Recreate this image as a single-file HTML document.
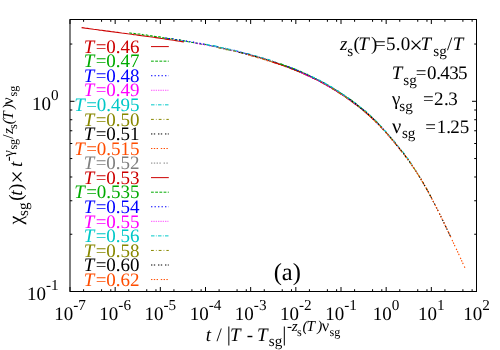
<!DOCTYPE html>
<html><head><meta charset="utf-8"><title>plot</title>
<style>html,body{margin:0;padding:0;background:#fff;}svg{display:block;will-change:transform;}text{font-family:"Liberation Serif",serif;font-size:19px;fill:#000;text-rendering:geometricPrecision;}.i{font-style:italic;}</style></head><body>
<svg width="500" height="350" viewBox="0 0 500 350">
<rect x="0" y="0" width="500" height="350" fill="#fff"/>
<g fill="none" stroke-width="1.15" stroke-linecap="butt" stroke-linejoin="round">
<path d="M81.6 27.6L83.6 27.9L85.6 28.2L87.6 28.4L89.6 28.7L91.6 29.0L93.6 29.3L95.6 29.5L97.6 29.8L99.6 30.1L101.7 30.3L103.7 30.6L105.7 30.9L107.7 31.1L109.7 31.4L111.7 31.7L113.7 31.9L115.7 32.2L117.7 32.4L119.7 32.7L121.7 33.0L123.7 33.2L125.7 33.5L127.7 33.8L129.7 34.0L131.7 34.3L133.7 34.6L135.7 34.8L137.8 35.1L139.8 35.4L141.8 35.7L143.8 35.9L145.8 36.2L147.8 36.5L149.8 36.8L151.8 37.0L153.8 37.3L155.8 37.6L157.8 37.9L159.8 38.2L161.8 38.5L163.8 38.8L165.8 39.1L167.8 39.4L169.8 39.7L171.8 40.0L173.9 40.3L175.9 40.6L177.9 41.0L179.9 41.3L181.9 41.6L183.9 41.9" stroke="#cc0000"/>
<path d="M129.3 32.7L131.3 33.2L133.4 33.3L135.4 33.8L137.4 34.0L139.5 34.0L141.5 34.2L143.5 35.0L145.6 34.9L147.6 35.2L149.6 35.9L151.7 35.9L153.7 36.4L155.8 36.5L157.8 36.9L159.8 36.9L161.9 37.5L163.9 37.9L165.9 38.0L168.0 38.5L170.0 38.7L172.0 38.7L174.1 39.4L176.1 39.6L178.1 39.8L180.2 39.9L182.2 40.8L184.2 40.9L186.3 41.4L188.3 41.8L190.3 42.1L192.4 42.5L194.4 42.6L196.4 43.2L198.5 43.4L200.5 44.0L202.5 44.4L204.6 44.3L206.6 44.7L208.6 45.2L210.7 46.0L212.7 46.1L214.7 46.6L216.8 46.9L218.8 47.4L220.8 47.8L222.9 48.2L224.9 48.8L226.9 49.2L229.0 49.9L231.0 50.2" stroke="#00aa00" stroke-dasharray="2.80,1.40"/>
<path d="M165.2 37.9L167.2 38.2L169.2 38.6L171.2 38.7L173.3 38.7L175.3 39.5L177.3 39.9L179.4 40.1L181.4 40.3L183.4 40.7L185.5 40.7L187.5 41.5L189.5 41.6L191.6 41.8L193.6 42.1L195.6 42.9L197.7 43.3L199.7 43.2L201.7 44.0L203.7 44.1L205.8 44.4L207.8 44.8L209.8 45.5L211.9 46.0L213.9 45.9L215.9 46.7L218.0 46.8L220.0 47.6L222.0 47.8L224.1 48.6L226.1 49.1L228.1 49.3L230.2 50.0L232.2 50.1L234.2 50.4L236.3 51.2L238.3 51.4L240.3 52.0L242.3 52.6L244.4 53.3L246.4 53.5L248.4 54.0L250.5 55.0L252.5 55.3L254.5 56.2L256.6 56.7L258.6 57.0L260.6 57.6L262.7 58.3L264.7 59.0L266.7 59.5" stroke="#0000ff" stroke-dasharray="1.40,2.10"/>
<path d="M194.0 42.8L196.1 43.2L198.1 43.8L200.1 43.9L202.1 44.2L204.2 44.8L206.2 44.9L208.2 45.3L210.3 46.1L212.3 46.3L214.3 46.7L216.3 46.8L218.4 47.5L220.4 48.0L222.4 48.1L224.5 48.9L226.5 49.4L228.5 49.5L230.5 50.3L232.6 50.7L234.6 51.3L236.6 51.6L238.7 52.3L240.7 52.8L242.7 52.9L244.7 53.4L246.8 54.3L248.8 55.0L250.8 55.2L252.9 55.8L254.9 56.5L256.9 56.9L258.9 57.5L261.0 58.0L263.0 58.7L265.0 59.4L267.1 59.9L269.1 60.5L271.1 61.4L273.1 61.6L275.2 62.6L277.2 63.4L279.2 63.8L281.3 64.5L283.3 65.5L285.3 65.9L287.3 66.6L289.4 67.6L291.4 68.5L293.4 68.9L295.5 69.9" stroke="#ff00ff" stroke-dasharray="0.70,1.05"/>
<path d="M206.6 44.4L208.6 45.1L210.6 45.2L212.7 45.9L214.7 45.9L216.7 46.4L218.7 47.0L220.8 47.6L222.8 47.8L224.8 48.1L226.8 48.5L228.9 49.2L230.9 49.5L232.9 50.3L234.9 50.8L237.0 50.9L239.0 51.5L241.0 52.3L243.1 52.7L245.1 53.3L247.1 53.6L249.1 54.0L251.2 54.6L253.2 55.5L255.2 55.7L257.2 56.3L259.3 57.0L261.3 57.6L263.3 58.1L265.3 59.1L267.4 59.2L269.4 59.8L271.4 61.0L273.4 61.6L275.5 62.3L277.5 62.7L279.5 63.7L281.5 64.3L283.6 64.6L285.6 65.7L287.6 66.5L289.6 67.2L291.7 67.8L293.7 68.5L295.7 69.3L297.7 70.1L299.8 70.9L301.8 72.0L303.8 72.7L305.8 74.0L307.9 74.4" stroke="#00c8c8" stroke-dasharray="3.50,1.40,0.70,1.40"/>
<path d="M218.2 47.8L220.2 48.1L222.2 48.7L224.2 49.1L226.2 49.6L228.3 49.8L230.3 50.0L232.3 50.9L234.3 51.0L236.4 51.6L238.4 52.3L240.4 52.7L242.4 53.2L244.5 54.0L246.5 54.3L248.5 54.7L250.5 55.2L252.5 56.1L254.6 56.4L256.6 57.2L258.6 57.5L260.6 58.0L262.7 58.8L264.7 59.6L266.7 59.8L268.7 60.8L270.8 61.5L272.8 62.1L274.8 62.7L276.8 62.9L278.8 64.0L280.9 64.8L282.9 65.0L284.9 65.9L286.9 66.6L289.0 67.6L291.0 68.3L293.0 69.1L295.0 70.1L297.0 70.4L299.1 71.3L301.1 72.2L303.1 73.1L305.1 74.0L307.2 75.4L309.2 76.3L311.2 76.8L313.2 78.0L315.3 78.9L317.3 79.9L319.3 81.0" stroke="#888800" stroke-dasharray="2.80,2.10,0.70,2.10"/>
<path d="M238.8 52.2L240.9 52.7L242.9 53.0L244.9 53.5L246.9 54.1L248.9 54.5L251.0 55.3L253.0 55.9L255.0 56.3L257.0 56.7L259.0 57.3L261.1 58.0L263.1 58.7L265.1 59.5L267.1 59.8L269.1 60.7L271.2 61.2L273.2 61.8L275.2 62.4L277.2 63.2L279.2 64.0L281.3 64.5L283.3 65.4L285.3 66.0L287.3 66.6L289.3 67.5L291.4 68.4L293.4 68.8L295.4 69.8L297.4 70.6L299.4 71.8L301.5 72.7L303.5 73.2L305.5 74.4L307.5 75.3L309.5 75.9L311.6 77.0L313.6 77.7L315.6 79.2L317.6 80.1L319.6 81.3L321.7 82.3L323.7 83.3L325.7 84.5L327.7 85.5L329.7 86.4L331.8 87.9L333.8 88.7L335.8 90.1L337.8 91.7L339.8 92.6" stroke="#000000" stroke-dasharray="1.40,1.40,1.40,2.80"/>
<path d="M248.1 54.7L250.2 55.2L252.2 56.3L254.2 56.4L256.2 56.9L258.2 57.9L260.3 58.1L262.3 59.1L264.3 59.6L266.3 60.3L268.3 61.0L270.3 61.4L272.4 62.2L274.4 62.4L276.4 63.5L278.4 64.0L280.4 64.8L282.4 65.2L284.5 66.3L286.5 67.1L288.5 67.4L290.5 68.3L292.5 69.2L294.5 70.2L296.6 70.6L298.6 71.4L300.6 72.3L302.6 73.4L304.6 74.4L306.7 75.1L308.7 76.0L310.7 77.0L312.7 77.9L314.7 78.9L316.7 79.7L318.8 81.0L320.8 82.4L322.8 83.1L324.8 84.4L326.8 85.2L328.8 86.7L330.9 87.9L332.9 89.0L334.9 90.2L336.9 91.4L338.9 92.8L340.9 94.3L343.0 95.1L345.0 96.5L347.0 98.3L349.0 99.8" stroke="#ff4d00" stroke-dasharray="1.40,1.40,1.40,1.40,1.40,2.80"/>
<path d="M256.9 56.7L258.9 57.2L260.9 58.0L262.9 58.2L264.9 58.9L267.0 59.5L269.0 60.3L271.0 60.8L273.0 61.4L275.0 62.3L277.0 63.2L279.0 63.4L281.1 64.4L283.1 64.9L285.1 65.9L287.1 66.5L289.1 67.1L291.1 67.8L293.1 68.5L295.2 69.6L297.2 70.3L299.2 71.0L301.2 72.0L303.2 72.8L305.2 74.0L307.2 74.6L309.3 76.0L311.3 76.6L313.3 77.7L315.3 78.6L317.3 79.8L319.3 80.9L321.3 81.8L323.4 82.8L325.4 84.1L327.4 85.3L329.4 86.2L331.4 87.6L333.4 88.9L335.4 89.8L337.5 91.0L339.5 92.3L341.5 93.9L343.5 95.2L345.5 96.7L347.5 98.1L349.5 99.1L351.6 100.6L353.6 102.1L355.6 103.6L357.6 105.4" stroke="#808080" stroke-dasharray="1.40,1.40,1.40,1.40,1.40,1.40,1.40,2.80"/>
<path d="M272.8 62.2L274.9 62.9L276.9 63.2L278.9 64.2L280.9 64.6L282.9 65.4L284.9 66.3L286.9 66.6L288.9 67.4L290.9 68.6L293.0 69.1L295.0 69.9L297.0 70.9L299.0 71.7L301.0 72.2L303.0 73.3L305.0 74.2L307.0 75.2L309.1 75.9L311.1 77.1L313.1 78.3L315.1 79.0L317.1 80.1L319.1 80.8L321.1 82.0L323.1 83.3L325.1 84.1L327.2 85.7L329.2 86.8L331.2 87.5L333.2 89.2L335.2 90.1L337.2 91.6L339.2 92.9L341.2 93.9L343.3 95.5L345.3 96.9L347.3 98.4L349.3 99.5L351.3 101.2L353.3 102.8L355.3 104.2L357.3 105.6L359.3 107.0L361.4 108.8L363.4 110.4L365.4 112.3L367.4 114.1L369.4 115.8L371.4 117.4L373.4 119.6" stroke="#cc0000"/>
<path d="M280.2 63.9L282.2 64.4L284.2 65.5L286.2 66.1L288.2 66.5L290.2 67.8L292.2 68.1L294.2 69.0L296.2 70.0L298.2 70.8L300.3 71.6L302.3 72.5L304.3 73.3L306.3 74.1L308.3 75.0L310.3 75.8L312.3 77.2L314.3 78.2L316.3 79.1L318.3 80.2L320.3 81.0L322.4 82.0L324.4 83.2L326.4 84.6L328.4 85.3L330.4 86.7L332.4 87.8L334.4 89.3L336.4 90.3L338.4 91.5L340.4 92.9L342.4 94.3L344.5 95.8L346.5 96.9L348.5 98.6L350.5 99.6L352.5 101.2L354.5 102.6L356.5 104.1L358.5 106.1L360.5 107.7L362.5 109.0L364.5 110.7L366.5 112.6L368.6 114.6L370.6 116.4L372.6 118.3L374.6 120.1L376.6 121.8L378.6 124.0L380.6 126.0" stroke="#00aa00" stroke-dasharray="2.80,1.40"/>
<path d="M287.1 66.6L289.1 67.3L291.1 67.9L293.1 68.7L295.1 69.8L297.1 70.2L299.2 71.5L301.2 72.4L303.2 73.3L305.2 73.9L307.2 74.9L309.2 75.8L311.2 76.8L313.2 78.0L315.2 78.8L317.2 79.6L319.2 80.9L321.2 81.8L323.2 82.9L325.2 84.1L327.2 84.8L329.2 86.4L331.2 87.5L333.3 88.6L335.3 89.9L337.3 91.1L339.3 92.2L341.3 93.7L343.3 94.7L345.3 96.4L347.3 97.9L349.3 99.2L351.3 100.7L353.3 102.4L355.3 103.9L357.3 105.0L359.3 107.0L361.3 108.5L363.3 109.8L365.3 111.7L367.4 113.4L369.4 115.1L371.4 117.2L373.4 119.3L375.4 120.9L377.4 123.3L379.4 125.2L381.4 127.0L383.4 129.6L385.4 131.7L387.4 134.2" stroke="#0000ff" stroke-dasharray="1.40,2.10"/>
<path d="M300.0 72.2L302.0 73.1L304.0 73.7L306.0 74.9L308.0 75.9L310.0 76.8L312.0 77.5L314.0 78.6L316.0 79.5L318.0 80.3L320.0 81.3L322.0 82.4L324.0 83.5L326.0 84.6L328.0 85.9L330.0 87.2L332.0 88.3L334.0 89.4L336.0 90.8L338.0 91.9L340.0 93.3L342.0 94.8L344.1 95.9L346.1 97.1L348.1 99.0L350.1 100.3L352.1 101.5L354.1 103.0L356.1 104.6L358.1 106.2L360.1 107.6L362.1 109.1L364.1 110.9L366.1 113.0L368.1 114.4L370.1 116.4L372.1 118.1L374.1 120.0L376.1 122.0L378.1 124.1L380.1 126.1L382.1 128.1L384.1 130.4L386.1 132.6L388.1 135.1L390.1 137.2L392.1 139.5L394.1 142.1L396.1 144.5L398.1 147.2L400.1 149.3" stroke="#ff00ff" stroke-dasharray="0.70,1.05"/>
<path d="M311.7 76.4L313.7 77.4L315.7 78.2L317.7 79.8L319.7 80.3L321.7 81.3L323.7 82.6L325.7 83.6L327.7 85.0L329.7 85.9L331.7 87.0L333.7 88.2L335.7 89.8L337.7 90.8L339.7 92.4L341.7 93.5L343.7 95.1L345.7 96.1L347.7 97.4L349.7 98.9L351.7 100.7L353.7 102.0L355.7 103.4L357.7 104.8L359.7 106.7L361.7 108.5L363.7 110.0L365.7 111.3L367.7 113.1L369.7 114.9L371.7 116.8L373.7 118.7L375.7 120.6L377.7 123.0L379.7 125.2L381.7 126.9L383.7 129.6L385.7 131.5L387.7 134.0L389.7 136.3L391.7 138.7L393.7 140.5L395.7 143.1L397.7 145.7L399.7 148.4L401.7 150.4L403.7 153.1L405.7 156.1L407.7 158.4L409.7 161.4L411.7 164.2" stroke="#00c8c8" stroke-dasharray="3.50,1.40,0.70,1.40"/>
<path d="M332.1 88.3L334.2 89.7L336.2 90.5L338.3 92.1L340.3 93.4L342.3 94.8L344.4 96.0L346.4 97.7L348.4 98.8L350.5 100.3L352.5 101.6L354.6 103.5L356.6 104.9L358.6 106.3L360.7 107.9L362.7 109.9L364.8 111.6L366.8 113.4L368.8 115.0L370.9 117.0L372.9 118.7L374.9 121.0L377.0 122.6L379.0 125.0L381.1 127.3L383.1 129.4L385.1 131.3L387.2 133.7L389.2 136.4L391.3 138.7L393.3 141.3L395.3 143.7L397.4 145.9L399.4 148.7L401.4 151.2L403.5 153.6L405.5 156.3L407.6 158.9L409.6 161.9L411.6 165.1L413.7 167.6L415.7 170.9L417.8 173.9L419.8 177.2L421.8 180.8L423.9 184.1L425.9 187.6L427.9 191.3L430.0 195.2L432.0 199.0" stroke="#888800" stroke-dasharray="2.80,2.10,0.70,2.10"/>
<path d="M349.5 99.2L351.6 100.8L353.6 102.7L355.6 103.8L357.7 105.6L359.7 107.1L361.7 109.0L363.8 110.6L365.8 112.4L367.8 114.1L369.8 115.7L371.9 117.6L373.9 119.4L375.9 121.9L378.0 123.5L380.0 125.5L382.0 128.3L384.0 130.0L386.1 132.7L388.1 134.6L390.1 137.1L392.2 139.4L394.2 142.1L396.2 144.5L398.2 147.0L400.3 149.6L402.3 152.2L404.3 154.5L406.4 157.4L408.4 160.1L410.4 162.8L412.4 166.0L414.5 168.9L416.5 172.1L418.5 175.1L420.6 178.5L422.6 181.9L424.6 185.5L426.7 188.9L428.7 192.7L430.7 196.5L432.7 200.3L434.8 204.3L436.8 208.3L438.8 212.3L440.9 216.4L442.9 220.6L444.9 224.7L446.9 229.0L449.0 233.4L451.0 237.6" stroke="#000000" stroke-dasharray="1.40,1.40,1.40,2.80"/>
<path d="M364.6 111.4L366.6 112.9L368.6 114.8L370.6 116.6L372.6 118.9L374.6 120.8L376.6 122.8L378.6 124.9L380.6 126.8L382.6 129.2L384.6 131.1L386.6 133.3L388.6 135.9L390.6 138.2L392.7 140.6L394.7 142.8L396.7 145.4L398.7 147.6L400.7 150.5L402.7 153.0L404.7 155.2L406.7 158.3L408.7 160.6L410.7 163.4L412.7 166.6L414.7 169.4L416.7 172.5L418.7 175.8L420.7 178.8L422.8 182.4L424.8 185.7L426.8 189.3L428.8 193.0L430.8 196.8L432.8 200.6L434.8 204.3L436.8 208.3L438.8 212.3L440.8 216.4L442.8 220.4L444.8 224.6L446.8 228.9L448.8 233.1L450.9 237.4L452.9 241.7L454.9 246.1L456.9 250.3L458.9 254.6L460.9 259.0L462.9 263.4L464.9 267.8" stroke="#ff4d00" stroke-dasharray="1.40,1.40,1.40,1.40,1.40,2.80"/>
</g>
<g stroke="#000" stroke-width="1" fill="none">
<rect x="70" y="19.5" width="406.5" height="272"/>
<path d="M70.00 291.50v-4.50M70.00 19.50v4.50M83.60 291.50v-2.30M83.60 19.50v2.30M101.57 291.50v-2.30M101.57 19.50v2.30M110.79 291.50v-2.30M110.79 19.50v2.30M115.17 291.50v-4.50M115.17 19.50v4.50M128.76 291.50v-2.30M128.76 19.50v2.30M146.74 291.50v-2.30M146.74 19.50v2.30M155.96 291.50v-2.30M155.96 19.50v2.30M160.33 291.50v-4.50M160.33 19.50v4.50M173.93 291.50v-2.30M173.93 19.50v2.30M191.90 291.50v-2.30M191.90 19.50v2.30M201.12 291.50v-2.30M201.12 19.50v2.30M205.50 291.50v-4.50M205.50 19.50v4.50M219.10 291.50v-2.30M219.10 19.50v2.30M237.07 291.50v-2.30M237.07 19.50v2.30M246.29 291.50v-2.30M246.29 19.50v2.30M250.67 291.50v-4.50M250.67 19.50v4.50M264.26 291.50v-2.30M264.26 19.50v2.30M282.24 291.50v-2.30M282.24 19.50v2.30M291.46 291.50v-2.30M291.46 19.50v2.30M295.83 291.50v-4.50M295.83 19.50v4.50M309.43 291.50v-2.30M309.43 19.50v2.30M327.40 291.50v-2.30M327.40 19.50v2.30M336.62 291.50v-2.30M336.62 19.50v2.30M341.00 291.50v-4.50M341.00 19.50v4.50M354.60 291.50v-2.30M354.60 19.50v2.30M372.57 291.50v-2.30M372.57 19.50v2.30M381.79 291.50v-2.30M381.79 19.50v2.30M386.17 291.50v-4.50M386.17 19.50v4.50M399.76 291.50v-2.30M399.76 19.50v2.30M417.74 291.50v-2.30M417.74 19.50v2.30M426.96 291.50v-2.30M426.96 19.50v2.30M431.33 291.50v-4.50M431.33 19.50v4.50M444.93 291.50v-2.30M444.93 19.50v2.30M462.90 291.50v-2.30M462.90 19.50v2.30M472.12 291.50v-2.30M472.12 19.50v2.30M476.50 291.50v-4.50M476.50 19.50v4.50M70.00 291.50h4.50M476.50 291.50h-4.50M70.00 234.24h2.30M476.50 234.24h-2.30M70.00 200.75h2.30M476.50 200.75h-2.30M70.00 176.99h2.30M476.50 176.99h-2.30M70.00 158.56h2.30M476.50 158.56h-2.30M70.00 143.50h2.30M476.50 143.50h-2.30M70.00 130.76h2.30M476.50 130.76h-2.30M70.00 119.73h2.30M476.50 119.73h-2.30M70.00 110.00h2.30M476.50 110.00h-2.30M70.00 101.30h4.50M476.50 101.30h-4.50M70.00 44.04h2.30M476.50 44.04h-2.30"/>
</g>
<text x="70.00" y="319.60" text-anchor="middle">10<tspan font-size="15.20px" dy="-9.88">-7</tspan></text>
<text x="115.17" y="319.60" text-anchor="middle">10<tspan font-size="15.20px" dy="-9.88">-6</tspan></text>
<text x="160.33" y="319.60" text-anchor="middle">10<tspan font-size="15.20px" dy="-9.88">-5</tspan></text>
<text x="205.50" y="319.60" text-anchor="middle">10<tspan font-size="15.20px" dy="-9.88">-4</tspan></text>
<text x="250.67" y="319.60" text-anchor="middle">10<tspan font-size="15.20px" dy="-9.88">-3</tspan></text>
<text x="295.83" y="319.60" text-anchor="middle">10<tspan font-size="15.20px" dy="-9.88">-2</tspan></text>
<text x="341.00" y="319.60" text-anchor="middle">10<tspan font-size="15.20px" dy="-9.88">-1</tspan></text>
<text x="386.17" y="319.60" text-anchor="middle">10<tspan font-size="15.20px" dy="-9.88">0</tspan></text>
<text x="431.33" y="319.60" text-anchor="middle">10<tspan font-size="15.20px" dy="-9.88">1</tspan></text>
<text x="476.50" y="319.60" text-anchor="middle">10<tspan font-size="15.20px" dy="-9.88">2</tspan></text>
<text x="58.60" y="110.00" text-anchor="end">10<tspan font-size="15.20px" dy="-9.88">0</tspan></text>
<text x="58.60" y="299.90" text-anchor="end">10<tspan font-size="15.20px" dy="-9.88">-1</tspan></text>
<text x="139.6" y="52.80" text-anchor="end" style="fill:#cc0000"><tspan class="i">T</tspan><tspan dx="1.4">=</tspan>0.46</text>
<path d="M151 46.60H168.8" stroke="#cc0000" stroke-width="1" fill="none"/>
<text x="139.6" y="67.36" text-anchor="end" style="fill:#00aa00"><tspan class="i">T</tspan><tspan dx="1.4">=</tspan>0.47</text>
<path d="M151 61.16H168.8" stroke="#00aa00" stroke-width="1" fill="none" stroke-dasharray="2.80,1.40"/>
<text x="139.6" y="81.92" text-anchor="end" style="fill:#0000ff"><tspan class="i">T</tspan><tspan dx="1.4">=</tspan>0.48</text>
<path d="M151 75.72H168.8" stroke="#0000ff" stroke-width="1" fill="none" stroke-dasharray="1.40,2.10"/>
<text x="139.6" y="96.48" text-anchor="end" style="fill:#ff00ff"><tspan class="i">T</tspan><tspan dx="1.4">=</tspan>0.49</text>
<path d="M151 90.28H168.8" stroke="#ff00ff" stroke-width="1" fill="none" stroke-dasharray="0.70,1.05"/>
<text x="139.6" y="111.04" text-anchor="end" style="fill:#00c8c8"><tspan class="i">T</tspan><tspan dx="1.4">=</tspan>0.495</text>
<path d="M151 104.84H168.8" stroke="#00c8c8" stroke-width="1" fill="none" stroke-dasharray="3.50,1.40,0.70,1.40"/>
<text x="139.6" y="125.60" text-anchor="end" style="fill:#888800"><tspan class="i">T</tspan><tspan dx="1.4">=</tspan>0.50</text>
<path d="M151 119.40H168.8" stroke="#888800" stroke-width="1" fill="none" stroke-dasharray="2.80,2.10,0.70,2.10"/>
<text x="139.6" y="140.16" text-anchor="end" style="fill:#000000"><tspan class="i">T</tspan><tspan dx="1.4">=</tspan>0.51</text>
<path d="M151 133.96H168.8" stroke="#000000" stroke-width="1" fill="none" stroke-dasharray="1.40,1.40,1.40,2.80"/>
<text x="139.6" y="154.72" text-anchor="end" style="fill:#ff4d00"><tspan class="i">T</tspan><tspan dx="1.4">=</tspan>0.515</text>
<path d="M151 148.52H168.8" stroke="#ff4d00" stroke-width="1" fill="none" stroke-dasharray="1.40,1.40,1.40,1.40,1.40,2.80"/>
<text x="139.6" y="169.28" text-anchor="end" style="fill:#808080"><tspan class="i">T</tspan><tspan dx="1.4">=</tspan>0.52</text>
<path d="M151 163.08H168.8" stroke="#808080" stroke-width="1" fill="none" stroke-dasharray="1.40,1.40,1.40,1.40,1.40,1.40,1.40,2.80"/>
<text x="139.6" y="183.84" text-anchor="end" style="fill:#cc0000"><tspan class="i">T</tspan><tspan dx="1.4">=</tspan>0.53</text>
<path d="M151 177.64H168.8" stroke="#cc0000" stroke-width="1" fill="none"/>
<text x="139.6" y="198.40" text-anchor="end" style="fill:#00aa00"><tspan class="i">T</tspan><tspan dx="1.4">=</tspan>0.535</text>
<path d="M151 192.20H168.8" stroke="#00aa00" stroke-width="1" fill="none" stroke-dasharray="2.80,1.40"/>
<text x="139.6" y="212.96" text-anchor="end" style="fill:#0000ff"><tspan class="i">T</tspan><tspan dx="1.4">=</tspan>0.54</text>
<path d="M151 206.76H168.8" stroke="#0000ff" stroke-width="1" fill="none" stroke-dasharray="1.40,2.10"/>
<text x="139.6" y="227.52" text-anchor="end" style="fill:#ff00ff"><tspan class="i">T</tspan><tspan dx="1.4">=</tspan>0.55</text>
<path d="M151 221.32H168.8" stroke="#ff00ff" stroke-width="1" fill="none" stroke-dasharray="0.70,1.05"/>
<text x="139.6" y="242.08" text-anchor="end" style="fill:#00c8c8"><tspan class="i">T</tspan><tspan dx="1.4">=</tspan>0.56</text>
<path d="M151 235.88H168.8" stroke="#00c8c8" stroke-width="1" fill="none" stroke-dasharray="3.50,1.40,0.70,1.40"/>
<text x="139.6" y="256.64" text-anchor="end" style="fill:#888800"><tspan class="i">T</tspan><tspan dx="1.4">=</tspan>0.58</text>
<path d="M151 250.44H168.8" stroke="#888800" stroke-width="1" fill="none" stroke-dasharray="2.80,2.10,0.70,2.10"/>
<text x="139.6" y="271.20" text-anchor="end" style="fill:#000000"><tspan class="i">T</tspan><tspan dx="1.4">=</tspan>0.60</text>
<path d="M151 265.00H168.8" stroke="#000000" stroke-width="1" fill="none" stroke-dasharray="1.40,1.40,1.40,2.80"/>
<text x="139.6" y="285.76" text-anchor="end" style="fill:#ff4d00"><tspan class="i">T</tspan><tspan dx="1.4">=</tspan>0.62</text>
<path d="M151 279.56H168.8" stroke="#ff4d00" stroke-width="1" fill="none" stroke-dasharray="1.40,1.40,1.40,1.40,1.40,2.80"/>
<text x="340.11" y="50.30" class="i">z</text>
<text x="347.28" y="56.00" style="font-size:15.20px">s</text>
<text x="353.47" y="50.30">(</text>
<text x="358.26" y="50.30" class="i">T</text>
<text x="371.09" y="50.30">)</text>
<text x="374.95" y="50.30">=</text>
<text x="386.00" y="50.30">5</text>
<text x="395.65" y="50.30">.</text>
<text x="400.68" y="50.30">0</text>
<text x="409.30" y="52.70" style="font-size:24.00px">×</text>
<text x="420.46" y="50.30" class="i">T</text>
<text x="433.28" y="56.00" style="font-size:15.20px">sg</text>
<text x="446.90" y="50.30">/</text>
<text x="452.66" y="50.30" class="i">T</text>
<text x="391.76" y="78.90" class="i">T</text>
<text x="403.28" y="84.60" style="font-size:15.20px">sg</text>
<text x="415.85" y="78.90">=</text>
<text x="426.88" y="78.90">0</text>
<text x="436.25" y="78.90">.</text>
<text x="440.23" y="78.90">4</text>
<text x="449.19" y="78.90">3</text>
<text x="458.00" y="78.90">5</text>
<text x="392.03" y="105.30">γ</text>
<text x="399.28" y="111.00" style="font-size:15.20px">sg</text>
<text x="423.05" y="105.30">=</text>
<text x="433.97" y="105.30">2</text>
<text x="443.95" y="105.30">.</text>
<text x="448.29" y="105.30">3</text>
<text x="391.95" y="132.70" style="font-size:20.50px">ν</text>
<text x="401.88" y="138.40" style="font-size:15.20px">sg</text>
<text x="425.25" y="132.70">=</text>
<text x="436.73" y="132.70">1</text>
<text x="446.15" y="132.70">.</text>
<text x="450.17" y="132.70">2</text>
<text x="459.80" y="132.70">5</text>
<text x="273.7" y="279.6" style="font-size:24.5px">(a)</text>
<text x="205.77" y="340.70" class="i">t</text>
<text x="216.40" y="340.70">/</text>
<text x="226.74" y="340.80" style="font-size:20.80px">|</text>
<text x="229.96" y="340.70" class="i">T</text>
<text x="246.69" y="340.70">-</text>
<text x="256.96" y="340.70" class="i">T</text>
<text x="268.78" y="346.40" style="font-size:15.20px">sg</text>
<text x="282.14" y="340.80" style="font-size:20.80px">|</text>
<text x="287.04" y="331.20" style="font-size:15.20px">-</text>
<text x="291.87" y="331.20" class="i" style="font-size:15.20px">z</text>
<text x="297.00" y="335.76" style="font-size:12.16px">s</text>
<text x="302.47" y="331.20" class="i" style="font-size:15.20px">(</text>
<text x="306.41" y="331.20" class="i" style="font-size:15.20px">T</text>
<text x="317.32" y="331.20" class="i" style="font-size:15.20px">)</text>
<text x="321.66" y="331.20" style="font-size:16.40px">ν</text>
<text x="329.50" y="335.76" style="font-size:12.16px">sg</text>
<g transform="translate(22 225) rotate(-90)">
<text x="0.42" y="0.00" style="font-size:20.00px">χ</text>
<text x="8.98" y="5.70" style="font-size:15.20px">sg</text>
<text x="24.17" y="0.00">(</text>
<text x="29.17" y="0.00" class="i">t</text>
<text x="34.99" y="0.00">)</text>
<text x="41.30" y="2.60" style="font-size:24.00px">×</text>
<text x="57.97" y="0.00" class="i">t</text>
<text x="63.84" y="-9.50" style="font-size:15.20px">-</text>
<text x="68.22" y="-9.50" style="font-size:15.20px">γ</text>
<text x="75.40" y="-4.94" style="font-size:12.16px">sg</text>
<text x="86.20" y="-9.50" style="font-size:15.20px">/</text>
<text x="90.97" y="-9.50" class="i" style="font-size:15.20px">z</text>
<text x="96.10" y="-4.94" style="font-size:12.16px">s</text>
<text x="100.87" y="-9.50" class="i" style="font-size:15.20px">(</text>
<text x="105.21" y="-9.50" class="i" style="font-size:15.20px">T</text>
<text x="115.92" y="-9.50" class="i" style="font-size:15.20px">)</text>
<text x="120.36" y="-9.50" style="font-size:16.40px">ν</text>
<text x="128.50" y="-4.94" style="font-size:12.16px">sg</text>
</g>
</svg></body></html>
